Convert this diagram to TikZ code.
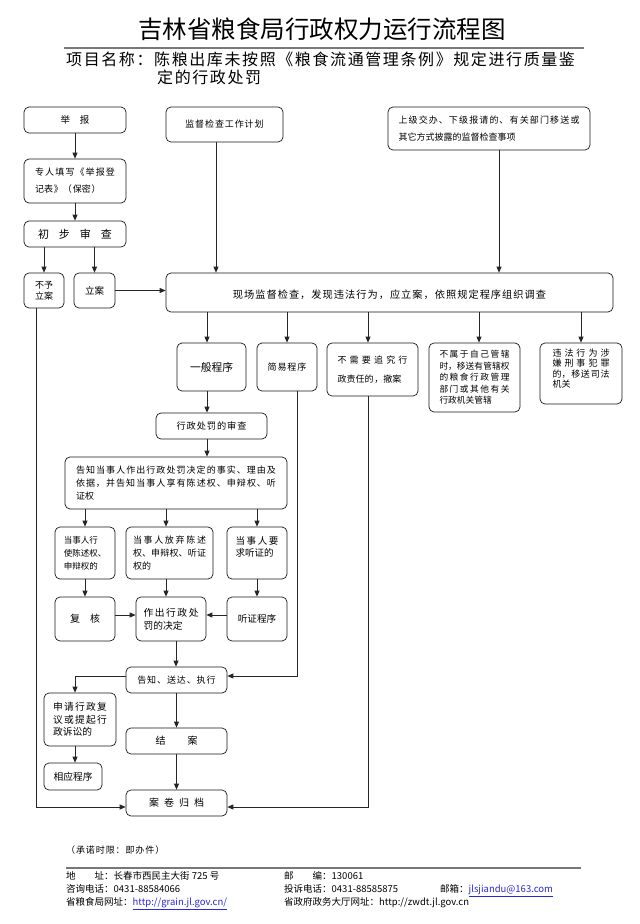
\documentclass[tikz,border=0pt]{standalone}
\usepackage{fontspec}
\usetikzlibrary{arrows.meta}
\setmainfont{Noto Sans CJK SC}
\newfontfamily\cjk[LetterSpace=10]{Noto Sans CJK SC}
\XeTeXlinebreaklocale "zh"
\XeTeXlinebreakskip=0pt plus 1pt
\newcommand\myfs[2]{\fontsize{#1}{#2}\selectfont}
\definecolor{linkblue}{RGB}{40,40,220}
\definecolor{rulegray}{RGB}{120,120,120}
\begin{document}
\begin{tikzpicture}[x=1pt,y=-1pt,
  box/.style={draw=black!90, rounded corners=5pt, line width=0.7pt, inner sep=0pt},
  arr/.style={draw=black!85, line width=0.8pt, -{Triangle[length=6pt,width=5pt]}},
  txt/.style={inner sep=0pt, anchor=west},
  foot/.style={inner sep=0pt, anchor=base west, font=\myfs{9.5}{11}},
]
\useasboundingbox (0,0) rectangle (640,924);
\fill[white] (0,0) rectangle (640,924);

% ---------- header ----------
\node[inner sep=0pt, font=\myfs{24.5}{26}] (title) at (322,29) {吉林省粮食局行政权力运行流程图};
\draw[rulegray, line width=2pt] (64,48) -- (584,48);
\node[txt, font=\cjk\myfs{16}{18}] (item1) at (66,59) {项目名称：陈粮出库未按照《粮食流通管理条例》规定进行质量鉴};
\node[txt, font=\cjk\myfs{16}{18}] (item2) at (157,77) {定的行政处罚};

% ---------- left column ----------
\node[box, minimum width=102pt, minimum height=26pt, font=\myfs{9.5}{12}] (jubao) at (75,120) {举\hspace{10pt}报};
\node[box, minimum width=102pt, minimum height=44pt, text width=80pt, align=justify, font=\cjk\myfs{9}{17}] (zhuanren) at (75,181) {专人填写《举报登\linebreak 记表》（保密）};
\node[box, minimum width=102pt, minimum height=26pt, font=\myfs{11}{13}] (chubu) at (75,234) {初\hspace{10pt}步\hspace{10pt}审\hspace{10pt}查};
\node[box, minimum width=40pt, minimum height=35pt, align=center, font=\myfs{9}{11}] (buyu) at (44,290.5) {不予\\立案};
\node[box, minimum width=41pt, minimum height=35pt, font=\myfs{9.5}{11}] (lian) at (94.5,290.5) {立案};

% ---------- top sources ----------
\node[box, minimum width=117pt, minimum height=35pt, font=\cjk\myfs{9}{12}] (jihua) at (224.5,124.5) {监督检查工作计划};
\node[box, minimum width=202pt, minimum height=43pt, text width=181pt, align=justify, font=\cjk\myfs{9}{17}] (shangji) at (489,128.5) {上级交办、下级报请的、有关部门移送或\linebreak 其它方式披露的监督检查事项};

\node[box, minimum width=447pt, minimum height=39pt, text height=12pt, text depth=0pt, font=\cjk\myfs{10.2}{12}] (xianchang) at (389.5,292.5) {现场监督检查，发现违法行为，应立案，依照规定程序组织调查};

% ---------- second level ----------
\node[box, minimum width=69pt, minimum height=48pt, font=\myfs{10.75}{13}] (yiban) at (211.5,367) {一般程序};
\node[box, minimum width=60pt, minimum height=48pt, font=\cjk\myfs{9}{12}] (jianyi) at (287,367) {简易程序};
\node[box, minimum width=91pt, minimum height=53pt, text width=70pt, align=justify, font=\cjk\myfs{9}{19}] (chean) at (372.5,369.5) {不需要追究行\linebreak 政责任的，撤案};
\node[box, minimum width=91pt, minimum height=69pt, text width=70pt, align=justify, font=\myfs{8.7}{11.5}] (bushu) at (474.5,377.5) {不属于自己管辖\linebreak 时，移送有管辖权\linebreak 的粮食行政管理\linebreak 部门或其他有关\linebreak 行政机关管辖};
\node[box, minimum width=82pt, minimum height=61pt, text width=57pt, align=justify, font=\myfs{9}{10.5}] (weifa) at (581,373.5) {违法行为涉\linebreak 嫌刑事犯罪\linebreak 的，移送司法\linebreak 机关\\\mbox{}};

% ---------- general procedure ----------
\node[box, minimum width=111pt, minimum height=26pt, font=\cjk\myfs{9.2}{12}] (shencha) at (211.5,426) {行政处罚的审查};
\node[box, minimum width=222pt, minimum height=52pt, text width=200pt, align=justify, font=\cjk\myfs{9}{13}] (gaozhi) at (176,483) {告知当事人作出行政处罚决定的事实、理由及\linebreak 依据，并告知当事人享有陈述权、申辩权、听\linebreak 证权};
\node[box, minimum width=60pt, minimum height=52pt, align=left, font=\myfs{8.5}{13}] (xingshi) at (85,553) {当事人行\\使陈述权、\\申辩权的};
\node[box, minimum width=87pt, minimum height=52pt, text width=73pt, align=justify, font=\myfs{9}{13}] (fangqi) at (169.5,553) {当事人放弃陈述\linebreak 权、申辩权、听证\linebreak 权的};
\node[box, minimum width=60pt, minimum height=52pt, text width=43pt, align=justify, font=\myfs{9.5}{12.5}] (yaoqiu) at (257,553) {当事人要\linebreak 求听证的\\\mbox{}};
\node[box, minimum width=60pt, minimum height=44pt, font=\myfs{10}{12}] (fuhe) at (85,619) {复\hspace{10pt}核};
\node[box, minimum width=70pt, minimum height=44pt, text width=55pt, align=justify, font=\myfs{9.75}{13}] (zuochu) at (171,619) {作出行政处\linebreak 罚的决定};
\node[box, minimum width=60pt, minimum height=44pt, font=\myfs{9.6}{12}] (tingzheng) at (257,619) {听证程序};
\node[box, minimum width=101pt, minimum height=26pt, font=\cjk\myfs{9}{12}] (songda) at (176.5,680) {告知、送达、执行};
\node[box, minimum width=72pt, minimum height=53pt, text width=54pt, align=justify, font=\myfs{9.75}{12.5}] (shenqing) at (80,719.5) {申请行政复\linebreak 议或提起行\linebreak 政诉讼的};
\node[box, minimum width=101pt, minimum height=26pt, font=\myfs{10}{12}] (jiean) at (176.5,741) {结\hspace{22pt}案};
\node[box, minimum width=58pt, minimum height=27pt, font=\myfs{9.75}{12}] (xiangying) at (73,776.5) {相应程序};
\node[box, minimum width=101pt, minimum height=26pt, font=\myfs{10}{12}] (guidang) at (176.5,803) {案\hspace{5pt}卷\hspace{5pt}归\hspace{5pt}档};

% ---------- connectors ----------
\draw[arr] (jubao) -- (zhuanren);
\draw[arr] (zhuanren) -- (chubu);
\draw[arr] (chubu.south -| buyu.north) -- (buyu.north);
\draw[arr] (chubu.south -| lian.north) -- (lian.north);
\draw[arr] (lian.east) -- (lian.east -| xianchang.west);
\coordinate (jA) at ([xshift=-8.5pt]jihua.south);
\draw[arr] (jA) -- (jA |- xianchang.north);
\coordinate (sA) at ([xshift=10pt]shangji.south);
\draw[arr] (sA) -- (sA |- xianchang.north);

\coordinate (d1) at ([xshift=-4.5pt]yiban.north);
\draw[arr] (d1 |- xianchang.south) -- (d1);
\draw[arr] (jianyi.north |- xianchang.south) -- (jianyi.north);
\coordinate (d3) at ([xshift=-4.5pt]chean.north);
\draw[arr] (d3 |- xianchang.south) -- (d3);
\coordinate (d4) at ([xshift=4.5pt]bushu.north);
\draw[arr] (d4 |- xianchang.south) -- (d4);
\draw[arr] (weifa.north |- xianchang.south) -- (weifa.north);

\coordinate (d2) at ([xshift=-4.5pt]yiban.south);
\draw[arr] (d2) -- (d2 |- shencha.north);
\draw[arr] (d2 |- shencha.south) -- (d2 |- gaozhi.north);
\draw[arr] (xingshi.north |- gaozhi.south) -- (xingshi.north);
\coordinate (f1) at ([xshift=-3.5pt]fangqi.north);
\draw[arr] (f1 |- gaozhi.south) -- (f1);
\draw[arr] (yaoqiu.north |- gaozhi.south) -- (yaoqiu.north);
\draw[arr] (xingshi) -- (fuhe);
\coordinate (f2) at ([xshift=-3.5pt]fangqi.south);
\draw[arr] (f2) -- (f2 |- zuochu.north);
\draw[arr] (yaoqiu) -- (tingzheng);
\coordinate (h1) at ([yshift=4pt]fuhe.east);
\draw[arr] (h1) -- (h1 -| zuochu.west);
\coordinate (h2) at ([yshift=4pt]tingzheng.west);
\draw[arr] (h2) -- (h2 -| zuochu.east);
\coordinate (z1) at ([xshift=5pt]zuochu.south);
\draw[arr] (z1) -- (z1 |- songda.north);

\coordinate (j1) at ([xshift=10pt]jianyi.south);
\coordinate (j2) at ([yshift=4pt]songda.east);
\draw[arr] (j1) |- (j2);
\coordinate (s1) at ([yshift=4pt]songda.west);
\draw[arr] (s1) -| ([xshift=-5pt]shenqing.north);
\coordinate (sq) at ([xshift=-5pt]shenqing.south);
\draw[arr] (sq) -- (sq |- xiangying.north);
\draw[arr] (songda) -- (jiean);
\draw[arr] (jiean) -- (guidang);
\coordinate (b1) at ([xshift=-8pt]buyu.south);
\coordinate (g1) at ([yshift=-4pt]guidang.west);
\draw[arr] (b1) |- (g1);
\coordinate (c1) at ([xshift=-4.5pt]chean.south);
\coordinate (g2) at ([yshift=-4pt]guidang.east);
\draw[arr] (c1) |- (g2);

% ---------- footer ----------
\node[inner sep=0pt, anchor=base west, font=\cjk\myfs{9}{11}] (promise) at (66,853.5) {（承诺时限：即办件）};
\draw[rulegray, line width=2.5pt] (66,868) -- (581,868);
\node[foot] (addr) at (66,879.5) {地\hspace{19pt}址：长春市西民主大街 725 号};
\node[foot] (post) at (284,879.5) {邮\hspace{19pt}编：130061};
\node[foot] (tel1) at (66,892.5) {咨询电话：0431-88584066};
\node[foot] (tel2) at (284,892.5) {投诉电话：0431-88585875};
\node[foot] (mail) at (440,892.5) {邮箱：\textcolor{linkblue}{\underline{jlsjiandu@163.com}}};
\node[foot] (web1) at (66,905.5) {省粮食局网址：\textcolor{linkblue}{\underline{http://grain.jl.gov.cn/}}};
\node[foot] (web2) at (284,905.5) {省政府政务大厅网址：http://zwdt.jl.gov.cn};
\end{tikzpicture}
\end{document}
